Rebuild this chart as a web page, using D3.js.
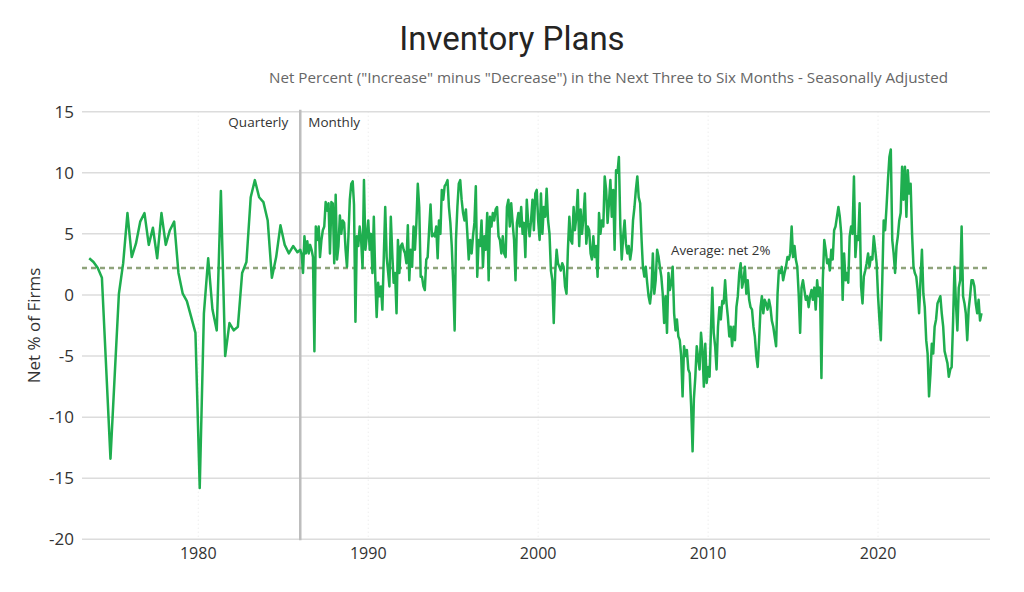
<!DOCTYPE html>
<html>
<head>
<meta charset="utf-8">
<script src="https://cdn.jsdelivr.net/npm/d3@7/dist/d3.min.js"></script>
<style>
  html, body { margin: 0; padding: 0; background: #fff; }
  svg text { font-family: "Segoe UI", "Open Sans", "Noto Sans", sans-serif; }
  .title { font-family: Roboto, "Noto Sans", sans-serif; }
</style>
</head>
<body>
<div id="chart"></div>
<script>
var WIDTH = 1024,
    HEIGHT = 592;

// quarterly survey, 1973 Q3 .. 1985 Q4 (Feb/May/Aug/Nov)
var quarterlyStart = [1973, 7];
var quarterlyValues = [
  3.0, 2.7, 2.2, 1.4, -6.0, -13.4, -6.5, 0.1,
  2.6, 6.7, 3.1, 4.2, 6.0, 6.7, 4.1, 5.5,
  3.0, 6.7, 4.1, 5.3, 6.0, 1.8, 0.1, -0.5,
  -1.8, -3.1, -15.8, -1.5, 3.0, -1.2, -2.9, 8.5,
  -5.0, -2.3, -2.9, -2.6, 1.8, 2.7, 8.0, 9.4,
  8.0, 7.6, 6.1, 1.4, 3.1, 5.7, 4.1, 3.4,
  4.0, 3.5
];

// monthly survey, one row per year
var monthly1986to1995 = [
  [3.7, 3.3, 1.8, 4.8, 3.4, 4.4, 3.4, 4.1, 3.7, 3.1, -4.6, 5.6],
  [4.5, 5.6, 3.1, 4.5, 5.3, 5.6, 7.6, 6.9, 7.5, 3.4, 7.6, 7.5],
  [2.6, 8.2, 2.9, 4.0, 6.5, 5.0, 6.1, 5.9, 3.7, 2.3, 4.8, 7.8],
  [9.1, 9.3, 7.4, -2.2, 4.8, 4.0, 5.6, 4.5, 2.2, 9.4, 3.7, 4.8],
  [6.1, 3.7, 5.0, 1.8, 6.4, 1.5, -1.8, 1.0, -0.1, 0.7, -1.2, 3.1],
  [7.2, 3.1, 2.0, 0.7, 6.4, 3.4, 1.0, 1.8, -1.5, 4.5, 1.8, 4.0],
  [4.2, 3.7, 3.4, 2.6, 5.7, 1.2, 3.7, 2.3, 5.6, 3.7, 5.9, 9.1],
  [7.2, 1.5, 1.5, 0.7, 0.4, 2.9, 3.1, 5.3, 7.4, 4.8, 5.0, 4.8],
  [5.6, 3.0, 6.1, 5.0, 8.6, 7.8, 8.9, 9.1, 9.4, 7.2, 5.9, 4.0],
  [1.0, -2.9, 4.5, 7.2, 9.1, 9.4, 7.8, 6.7, 6.1, 7.0, 5.0, 2.9]
];
var monthly1996to2005 = [
  [4.5, 3.4, 4.8, 5.9, 8.9, 1.5, 4.5, 4.0, 6.1, 2.3, 4.8, 3.7],
  [6.7, 1.2, 6.4, 5.6, 6.7, 6.1, 7.0, 7.2, 4.8, 4.5, 3.4, 4.8],
  [3.4, 3.1, 7.2, 7.8, 5.6, 7.5, 5.9, 4.5, 1.2, 5.9, 6.7, 5.6],
  [7.2, 5.0, 5.9, 3.1, 7.8, 5.9, 4.8, 6.1, 7.8, 5.3, 8.3, 8.6],
  [6.1, 4.5, 8.3, 5.0, 7.2, 6.4, 8.7, 6.1, 5.0, 2.0, 1.2, -2.3],
  [1.8, 3.7, 2.6, 2.3, 2.0, 2.6, 2.3, 0.7, 0.1, 3.7, 6.4, 4.5],
  [4.2, 7.2, 5.3, 6.4, 8.6, 4.0, 7.0, 5.0, 6.4, 8.3, 4.2, 5.6],
  [5.3, 3.4, 2.9, 4.8, 3.1, 4.0, 1.5, 6.7, 5.0, 6.1, 5.6, 9.7],
  [8.6, 5.9, 7.5, 9.4, 6.4, 8.6, 3.7, 10.2, 10.0, 11.3, 5.6, 2.9],
  [4.8, 6.1, 4.2, 3.4, 4.0, 2.9, 3.7, 6.1, 7.2, 8.6, 9.7, 8.0]
];
var monthly2006to2015 = [
  [7.5, 4.5, 2.3, 1.5, 2.3, 1.0, -0.1, -0.7, 0.4, 3.4, 0.1, 1.2],
  [3.7, 3.1, 2.3, 1.5, 0.1, -2.3, -0.1, -3.1, 1.8, 0.4, 1.0, 2.3],
  [-1.5, -2.9, -2.0, -3.4, -3.7, -5.0, -8.3, -4.2, -5.0, -4.5, -6.1, -6.4],
  [-9.1, -12.8, -8.5, -6.7, -4.2, -5.2, -6.1, -3.1, -4.5, -7.5, -4.0, -7.2],
  [-5.9, -6.7, -3.1, 0.6, -3.1, -4.2, -6.1, -2.6, -1.0, -2.0, -0.5, -0.7],
  [1.2, -0.7, -1.8, -3.4, -2.6, -4.2, -2.6, -3.7, -1.0, -0.1, 1.8, 2.6],
  [0.6, 1.2, 2.3, 0.1, 1.2, -0.4, -1.0, -1.2, -2.6, -3.4, -5.0, -5.9],
  [-3.7, -1.0, -0.1, -1.5, -0.4, -0.7, -1.2, -0.4, -1.0, -2.1, -2.6, -3.4],
  [-4.2, 0.1, 2.0, 1.8, 2.3, 1.2, 1.8, 2.3, 3.1, 2.9, 3.4, 5.6],
  [3.1, 4.0, 2.9, 2.3, 0.1, -3.1, 0.6, 1.2, 0.4, -0.4, -0.1, -1.0]
];
var monthly2016to2026 = [
  [-0.1, 0.4, -0.4, 0.6, -1.2, 1.2, -0.1, 0.6, -6.8, 1.2, 4.5, 3.7],
  [2.6, 2.9, 2.0, 3.7, 2.9, 5.3, 5.6, 6.4, 7.2, 6.4, 5.0, -0.4],
  [3.4, 1.2, 1.8, 1.0, 4.8, 5.6, 5.0, 9.7, 3.1, 4.8, 4.5, 7.5],
  [0.7, -0.7, 1.5, 2.0, 2.6, 3.4, 2.3, 3.1, 2.9, 4.8, 3.7, 2.6],
  [-0.1, -2.1, -3.7, 1.2, 6.1, 5.3, 7.2, 9.4, 11.3, 11.9, 4.5, 3.4],
  [1.8, 4.0, 4.8, 6.1, 6.7, 10.5, 7.8, 10.5, 6.4, 10.2, 8.3, 9.1],
  [5.0, 2.3, 1.8, 1.5, 0.4, -1.5, 1.2, 3.7, 0.1, -1.0, -3.7, -4.8],
  [-8.3, -6.4, -4.0, -4.8, -2.6, -2.0, -0.7, -0.4, -0.1, -1.5, -2.6, -4.6],
  [-5.1, -5.6, -6.7, -6.1, -5.9, -2.1, 2.3, -0.7, -2.9, 0.6, 1.2, 5.6],
  [-0.1, -0.7, -1.5, -3.7, -1.2, -0.1, 1.2, 1.2, 0.7, -0.7, -1.5, -0.4],
  [-2.1, -1.5]
];

var averageValue = 2.2,
    averageLabel = "Average: net 2%",
    monthlyStartYear = 1986,
    yTicks = [-20, -15, -10, -5, 0, 5, 10, 15],
    xTickYears = [1980, 1990, 2000, 2010, 2020];

var TITLE = "Inventory Plans",
    SUBTITLE = "Net Percent (\"Increase\" minus \"Decrease\") in the Next Three to Six Months - Seasonally Adjusted",
    Y_TITLE = "Net % of Firms";

// build one series of {date, value}
var series = [];
quarterlyValues.forEach(function(v, i) {
  var m = quarterlyStart[1] + i * 3;
  series.push({ date: new Date(quarterlyStart[0], m, 1), value: v });
});
[monthly1986to1995, monthly1996to2005, monthly2006to2015, monthly2016to2026].forEach(function(block, b) {
  block.forEach(function(row, r) {
    var year = monthlyStartYear + b * 10 + r;
    row.forEach(function(v, m) {
      series.push({ date: new Date(year, m, 1), value: v });
    });
  });
});

var plot = { left: 82, right: 990, top: 111.7, bottom: 539.3 };

var x = d3.scaleTime()
  .domain([new Date(1973, 1, 27), new Date(2026, 7, 3)])
  .range([plot.left, plot.right]);

var y = d3.scaleLinear()
  .domain([-20, 15])
  .range([plot.bottom, plot.top]);

var svg = d3.select("#chart").append("svg")
  .attr("width", WIDTH)
  .attr("height", HEIGHT);

svg.append("rect").attr("width", WIDTH).attr("height", HEIGHT).attr("fill", "#fff");

// titles
svg.append("text").attr("class", "title")
  .attr("x", 512).attr("y", 50)
  .attr("text-anchor", "middle")
  .attr("font-size", 33)
  .attr("fill", "#252423")
  .text(TITLE);

svg.append("text")
  .attr("x", 269).attr("y", 83)
  .attr("font-size", 15.2)
  .attr("fill", "#666")
  .text(SUBTITLE);

// vertical dotted grid at decades
svg.append("g").selectAll("line")
  .data(xTickYears)
  .join("line")
  .attr("x1", function(d) { return x(new Date(d, 0, 1)); })
  .attr("x2", function(d) { return x(new Date(d, 0, 1)); })
  .attr("y1", plot.top).attr("y2", plot.bottom)
  .attr("stroke", "#e6e6e6")
  .attr("stroke-dasharray", "1,3");

// horizontal grid
svg.append("g").selectAll("line")
  .data(yTicks)
  .join("line")
  .attr("x1", plot.left).attr("x2", plot.right)
  .attr("y1", function(d) { return y(d); })
  .attr("y2", function(d) { return y(d); })
  .attr("stroke", "#dcdcdc")
  .attr("stroke-width", 1.5);

// y tick labels
svg.append("g").selectAll("text")
  .data(yTicks)
  .join("text")
  .attr("x", 74)
  .attr("y", function(d) { return y(d); })
  .attr("dy", "0.35em")
  .attr("text-anchor", "end")
  .attr("font-size", 17)
  .attr("fill", "#333")
  .text(function(d) { return d; });

// x tick labels
svg.append("g").selectAll("text")
  .data(xTickYears)
  .join("text")
  .attr("x", function(d) { return x(new Date(d, 0, 1)); })
  .attr("y", 559)
  .attr("text-anchor", "middle")
  .attr("font-size", 16)
  .attr("fill", "#333")
  .text(function(d) { return d; });

svg.append("text")
  .attr("transform", "translate(40," + ((plot.top + plot.bottom) / 2) + ") rotate(-90)")
  .attr("text-anchor", "middle")
  .attr("font-size", 17)
  .attr("fill", "#333")
  .text(Y_TITLE);

// quarterly / monthly divider
var splitX = x(new Date(monthlyStartYear, 0, 1));
svg.append("line")
  .attr("x1", splitX).attr("x2", splitX)
  .attr("y1", plot.top - 2).attr("y2", plot.bottom + 1)
  .attr("stroke", "#bdbdbd")
  .attr("stroke-width", 2.5);

svg.append("text")
  .attr("x", splitX - 12).attr("y", 127)
  .attr("text-anchor", "end")
  .attr("font-size", 13.5)
  .attr("fill", "#333")
  .text("Quarterly");

svg.append("text")
  .attr("x", splitX + 8).attr("y", 127)
  .attr("font-size", 13.5)
  .attr("fill", "#333")
  .text("Monthly");

// average line
svg.append("line")
  .attr("x1", plot.left).attr("x2", plot.right)
  .attr("y1", y(averageValue)).attr("y2", y(averageValue))
  .attr("stroke", "#8fa37b")
  .attr("stroke-width", 2.5)
  .attr("stroke-dasharray", "5,4");

svg.append("text")
  .attr("x", 671).attr("y", y(averageValue) - 13)
  .attr("font-size", 13.3)
  .attr("fill", "#333")
  .text(averageLabel);

// the series
var line = d3.line()
  .x(function(d) { return x(d.date); })
  .y(function(d) { return y(d.value); });

svg.append("path")
  .datum(series)
  .attr("d", line)
  .attr("fill", "none")
  .attr("stroke", "#1fae4f")
  .attr("stroke-width", 2.5)
  .attr("stroke-linejoin", "round");
</script>
</body>
</html>
